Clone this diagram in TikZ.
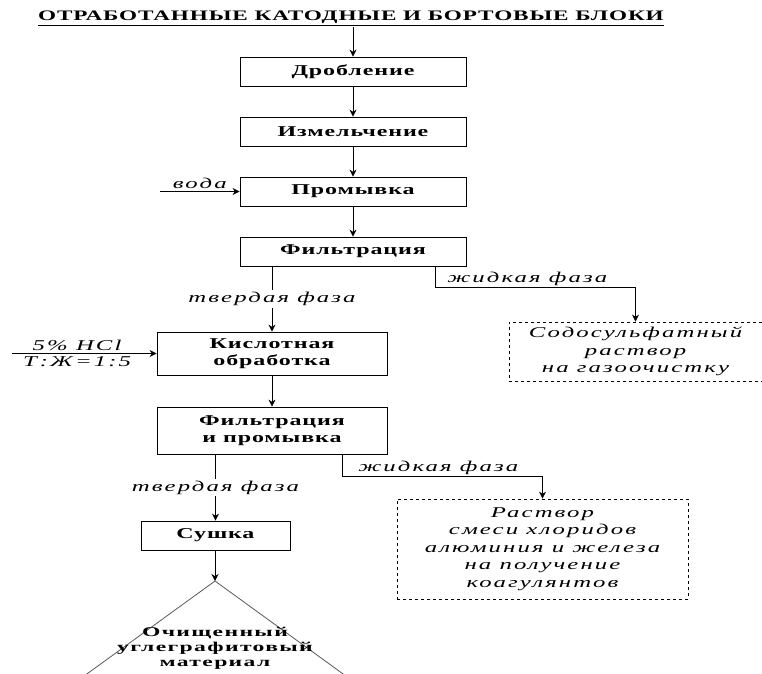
\documentclass[tikz,border=0pt]{standalone}
\usepackage{fontspec}
\setmainfont{Liberation Serif}
\newfontfamily\blockfont[FakeStretch=1.6,LetterSpace=6]{Liberation Serif}
\newfontfamily\notefont[FakeStretch=1.65,LetterSpace=14]{Liberation Serif}
\newfontfamily\endfont[FakeStretch=1.75,LetterSpace=10]{Liberation Serif}
\usetikzlibrary{arrows.meta,calc}

\begin{document}
\begin{tikzpicture}[
        x=1pt, y=-1pt,
        line width=0.8pt,
        >={Stealth[length=7pt,width=7pt]},
        stage/.style={draw, align=center, inner sep=1pt,
            font=\blockfont\bfseries\fontsize{15}{17}\selectfont},
        product/.style={draw, dashed, align=center, inner sep=1pt,
            font=\notefont\itshape\fontsize{15}{17.5}\selectfont},
        note/.style={font=\notefont\itshape\fontsize{15}{16}\selectfont, inner sep=1pt}
    ]

    % ---------- поле рисунка ----------
    \fill[white] (0,0) rectangle (762,673);
    \clip (0,0) rectangle (762,673);

    % ---------- заголовок ----------
    \node[font=\blockfont\bfseries\fontsize{14.5}{16}\selectfont, inner sep=1pt] (title) at (351,18)
        {\underline{ОТРАБОТАННЫЕ КАТОДНЫЕ И БОРТОВЫЕ БЛОКИ}};

    % ---------- основная цепочка ----------
    \node[stage, minimum width=226, minimum height=29] (crush) at (353,71.5) {Дробление};
    \node[stage, minimum width=226, minimum height=29] (mill)  at (353,131.5) {Измельчение};
    \node[stage, minimum width=226, minimum height=29] (wash)  at (353,191.5) {Промывка};
    \node[stage, minimum width=226, minimum height=29] (filt)  at (353,251.5) {Фильтрация};

    \node[stage, minimum width=230, minimum height=43] (acid)  at (272,353.5) {Кислотная\\обработка};
    \node[stage, minimum width=230, minimum height=47] (filt2) at (272,430.5) {Фильтрация\\и промывка};
    \node[stage, minimum width=149, minimum height=29] (dry)   at (215.5,535.5) {Сушка};

    % ---------- растворы ----------
    \node[product, minimum width=253, minimum height=59] (sol1) at (635.5,351.5)
        {Содосульфатный\\раствор\\на газоочистку};
    \node[product, minimum width=291, minimum height=100] (sol2) at (542.5,549)
        {Раствор\\смеси хлоридов\\алюминия и железа\\на получение\\коагулянтов};

    % ---------- вспомогательные точки ----------
    \coordinate (water)  at (160,191.5);
    \coordinate (hcl)    at (12,353.5);
    \coordinate (liq1)   at (435,287);
    \coordinate (liq2)   at (342,476);
    \coordinate (apex)   at (215,581);

    % ---------- стрелки ----------
    \draw[->] (title.south -| crush.north) -- (crush.north);
    \draw[->] (crush) -- (mill);
    \draw[->] (mill) -- (wash);
    \draw[->] (wash) -- (filt);

    \draw[->] (water) -- (wash.west)
        node[note, midway, above=1pt] {вода};

    \draw[->] (filt.south -| acid.north) -- (acid.north)
        node[note, midway, fill=white, inner sep=2pt] {твердая фаза};
    \draw[->] (filt.south -| liq1) -- (liq1) -| (sol1.north);
    \node[note, above=0pt] at ($(liq1)!0.46!(liq1 -| sol1.north)$) {жидкая фаза};

    \draw[->] (hcl) -- (acid.west)
        node[note, pos=0.45, above=1.5pt] {5\% HCl}
        node[note, pos=0.45, below=1.5pt] {Т:Ж=1:5};

    \draw[->] (acid) -- (filt2);

    \draw[->] (filt2.south -| dry.north) -- (dry.north)
        node[note, midway, fill=white, inner sep=2pt] {твердая фаза};
    \draw[->] (filt2.south -| liq2) -- (liq2) -| (sol2.north);
    \node[note, above=0pt] at ($(liq2)!0.48!(liq2 -| sol2.north)$) {жидкая фаза};

    \draw[->] (dry.south -| apex) -- (apex);

    % ---------- готовый продукт ----------
    \draw[gray!70!black] (51,700) -- (apex) -- (379,700);
    \node[font=\endfont\bfseries\fontsize{13.5}{15}\selectfont, align=center, inner sep=0] (coal) at (215,648)
        {Очищенный\\углеграфитовый\\материал};

\end{tikzpicture}
\end{document}
